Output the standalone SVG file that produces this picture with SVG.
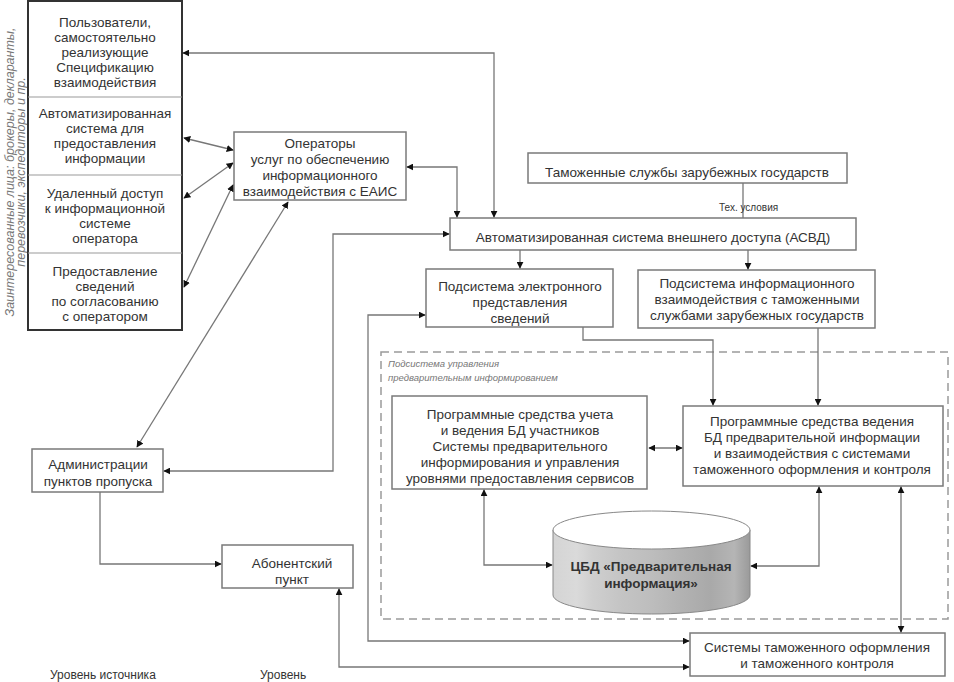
<svg xmlns="http://www.w3.org/2000/svg" width="954" height="682" viewBox="0 0 954 682">
<style>
text{font-family:"Liberation Sans",Arial,sans-serif;fill:#333;}
.t{font-size:13.5px;text-anchor:middle;}
.box{fill:#fff;stroke:#7a7a7a;stroke-width:1.5;}
.ln{fill:none;stroke:#777;stroke-width:1.3;}
.a2{marker-start:url(#ar);marker-end:url(#ar);}
.a1{marker-end:url(#ar);}
.it{font-style:italic;fill:#777;}
</style>
<defs>
<marker id="ar" viewBox="0 0 10 10" refX="9" refY="5" markerWidth="7" markerHeight="7" markerUnits="userSpaceOnUse" orient="auto-start-reverse">
<path d="M0,0 L10,5 L0,10 Z" fill="#111"/>
</marker>
<linearGradient id="cyl" x1="0" y1="0" x2="1" y2="0">
<stop offset="0" stop-color="#d4d4d4"/>
<stop offset="0.12" stop-color="#dadada"/>
<stop offset="0.2" stop-color="#cfcfcf"/>
<stop offset="0.35" stop-color="#c4c4c4"/>
<stop offset="0.5" stop-color="#bdbdbd"/>
<stop offset="0.65" stop-color="#b2b2b2"/>
<stop offset="0.8" stop-color="#a9a9a9"/>
<stop offset="0.92" stop-color="#b5b5b5"/>
<stop offset="1" stop-color="#9a9a9a"/>
</linearGradient>
</defs>

<text class="it" font-size="12.5" text-anchor="middle" transform="translate(14,172) rotate(-90)">Заинтересованные лица: брокеры, декларанты,</text>
<text class="it" font-size="12.5" text-anchor="middle" transform="translate(25,172) rotate(-90)">перевозчики, экспедиторы и пр.</text>

<g id="users">
<rect x="28" y="1" width="154" height="329" fill="#fff" stroke="#333" stroke-width="2"/>
<line x1="28" y1="97" x2="182" y2="97" stroke="#999" stroke-width="1"/>
<line x1="28" y1="175" x2="182" y2="175" stroke="#999" stroke-width="1"/>
<line x1="28" y1="253" x2="182" y2="253" stroke="#999" stroke-width="1"/>
<text class="t" x="105" y="27">Пользователи,</text>
<text class="t" x="105" y="42">самостоятельно</text>
<text class="t" x="105" y="57">реализующие</text>
<text class="t" x="105" y="72">Спецификацию</text>
<text class="t" x="105" y="87">взаимодействия</text>
<text class="t" x="105" y="118">Автоматизированная</text>
<text class="t" x="105" y="133">система для</text>
<text class="t" x="105" y="148">предоставления</text>
<text class="t" x="105" y="163">информации</text>
<text class="t" x="105" y="198">Удаленный доступ</text>
<text class="t" x="105" y="213">к информационной</text>
<text class="t" x="105" y="228">системе</text>
<text class="t" x="105" y="243">оператора</text>
<text class="t" x="105" y="276">Предоставление</text>
<text class="t" x="105" y="291">сведений</text>
<text class="t" x="105" y="306">по согласованию</text>
<text class="t" x="105" y="321">с оператором</text>
</g>

<g id="operators">
<rect class="box" x="234" y="132" width="172" height="68"/>
<text class="t" x="320" y="148">Операторы</text>
<text class="t" x="320" y="164">услуг по обеспечению</text>
<text class="t" x="320" y="180">информационного</text>
<text class="t" x="320" y="196">взаимодействия с ЕАИС</text>
</g>

<g id="foreign">
<rect class="box" x="528" y="153" width="319" height="30"/>
<text class="t" x="687" y="177">Таможенные службы зарубежных государств</text>
</g>

<g id="asvd">
<rect class="box" x="450" y="218" width="406" height="32"/>
<text class="t" x="653" y="242">Автоматизированная система внешнего доступа (АСВД)</text>
</g>

<g id="sub-el">
<rect class="box" x="426" y="269" width="187" height="58"/>
<text class="t" x="520" y="291">Подсистема электронного</text>
<text class="t" x="520" y="307">представления</text>
<text class="t" x="520" y="323">сведений</text>
</g>

<g id="sub-inf">
<rect class="box" x="638" y="270" width="237" height="58"/>
<text class="t" x="757" y="288">Подсистема информационного</text>
<text class="t" x="757" y="304">взаимодействия с таможенными</text>
<text class="t" x="757" y="320">службами зарубежных государств</text>
</g>

<g id="subsystem-mgmt">
<rect x="381" y="352" width="567" height="267" fill="none" stroke="#9a9a9a" stroke-width="1.5" stroke-dasharray="8 5"/>
<text class="it" x="388" y="367" font-size="9.5" fill="#555">Подсистема управления</text>
<text class="it" x="388" y="381" font-size="9.5" fill="#555">предварительным информированием</text>
</g>

<g id="prog-left">
<rect class="box" x="392" y="396" width="255" height="93"/>
<text class="t" x="520" y="419">Программные средства учета</text>
<text class="t" x="520" y="435">и ведения БД участников</text>
<text class="t" x="520" y="451">Системы предварительного</text>
<text class="t" x="520" y="467">информирования и управления</text>
<text class="t" x="520" y="483">уровнями предоставления сервисов</text>
</g>

<g id="prog-right">
<rect class="box" x="683" y="406" width="260" height="80"/>
<text class="t" x="812" y="426">Программные средства ведения</text>
<text class="t" x="812" y="442">БД предварительной информации</text>
<text class="t" x="812" y="458">и взаимодействия с системами</text>
<text class="t" x="812" y="474">таможенного оформления и контроля</text>
</g>

<g id="cbd">
<path d="M553,530 V595 A98.5,19 0 0 0 750,595 V530 Z" fill="url(#cyl)" stroke="#888" stroke-width="1"/>
<ellipse cx="651.5" cy="530" rx="98.5" ry="19" fill="#fff" stroke="#888" stroke-width="1"/>
<text class="t" x="651" y="571" font-weight="bold" fill="#222">ЦБД «Предварительная</text>
<text class="t" x="651" y="588" font-weight="bold" fill="#222">информация»</text>
</g>

<g id="admin">
<rect class="box" x="32" y="449" width="131" height="43"/>
<text class="t" x="98" y="469">Администрации</text>
<text class="t" x="98" y="486">пунктов пропуска</text>
</g>

<g id="abonent">
<rect class="box" x="222" y="545" width="131" height="43"/>
<text class="t" x="292" y="568">Абонентский</text>
<text class="t" x="292" y="584">пункт</text>
</g>

<g id="customs-systems">
<rect class="box" x="690" y="633" width="255" height="43"/>
<text class="t" x="817" y="652">Системы таможенного оформления</text>
<text class="t" x="817" y="668">и таможенного контроля</text>
</g>

<g id="connectors">
<path class="ln a2" d="M494,217 V53 H183"/>
<path class="ln a2" d="M407,167 H457 V217"/>
<path class="ln a2" d="M184,138 L233,150"/>
<path class="ln a2" d="M184,198 L233,163"/>
<path class="ln a2" d="M184,287 L233,185"/>
<path class="ln a2" d="M137,447 L288,202"/>
<path class="ln a2" d="M449,234 H333 V471 H164"/>
<path class="ln a1" d="M100,492 V564 H221"/>
<path class="ln" d="M743,183 V218"/>
<path class="ln a1" d="M520,250 V268"/>
<path class="ln a1" d="M748,250 V269"/>
<path class="ln a1" d="M583,327 V340 H713 V405"/>
<path class="ln a1" d="M818,328 V405"/>
<path class="ln a2" d="M649,448 H682"/>
<path class="ln a2" d="M484,490 V565 H552"/>
<path class="ln a2" d="M819,487 V566 H751"/>
<path class="ln a2" d="M901,487 V632"/>
<path class="ln a2" d="M425,315 H368 V641 H689"/>
<path class="ln a2" d="M339,589 V667 H689"/>
</g>
<text x="719" y="211" font-size="10" fill="#444">Тех. условия</text>

<text x="50" y="679" font-size="12" fill="#444">Уровень источника</text>
<text x="260" y="679" font-size="12" fill="#444">Уровень</text>
</svg>
